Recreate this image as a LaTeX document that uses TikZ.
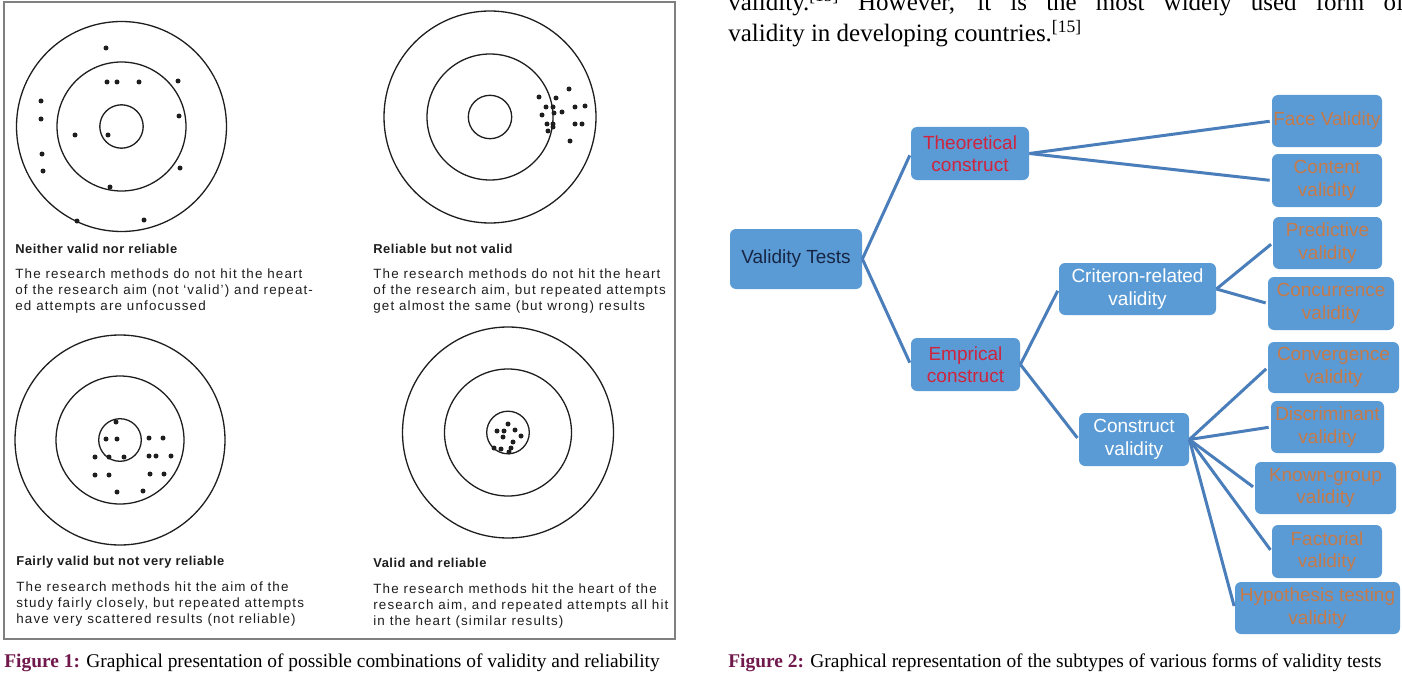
\documentclass[tikz,border=0pt]{standalone}
\usepackage{fontspec}
\setmainfont{Liberation Serif}
\setsansfont{Liberation Sans}
\newfontfamily\panelfont[LetterSpace=8.5]{Liberation Sans}
\newfontfamily\paneltitlefont[LetterSpace=4]{Liberation Sans}
\usetikzlibrary{positioning}
\definecolor{boxblue}{RGB}{91,155,213}
\definecolor{linkblue}{RGB}{74,126,187}
\definecolor{conred}{RGB}{206,36,62}
\definecolor{leaforange}{RGB}{196,122,74}
\definecolor{rootink}{RGB}{22,38,68}
\definecolor{figlabel}{RGB}{112,24,76}
\definecolor{inkgray}{RGB}{30,30,30}
\tikzset{every picture/.style={line width=0.75pt}}
\tikzset{
  target/.style={draw=inkgray, line width=1.3pt},
  hit/.style={fill=inkgray},
  boxbase/.style={rectangle, rounded corners=6pt, fill=boxblue, inner sep=0pt, align=center,
    font=\sffamily\fontsize{19}{22.5}\selectfont},
  rootbox/.style={boxbase, text=rootink},
  midbox/.style={boxbase, text=conred},
  subbox/.style={boxbase, text=white},
  leafbox/.style={boxbase, text=leaforange},
  link/.style={draw=linkblue, line width=3pt, shorten >=2pt},
  ptitle/.style={anchor=west, inner sep=0pt, text=inkgray,
    font=\paneltitlefont\bfseries\fontsize{12.9}{15}\selectfont},
  pbody/.style={anchor=north west, inner sep=0pt, align=left, text=inkgray,
    font=\panelfont\fontsize{13.4}{16}\selectfont},
  figcap/.style={anchor=west, inner sep=0pt, font=\fontsize{19.4}{23}\selectfont},
  prose/.style={anchor=base west, inner sep=0pt, font=\fontsize{25}{31}\selectfont}
}

\begin{document}
\begin{tikzpicture}[x=1pt, y=-1pt]
    \useasboundingbox (0,0) rectangle (1402,674);
    \clip (0,0) rectangle (1402,674);
    \fill[white] (0,0) rectangle (1402,674);

    % Figure 1: four targets
    \draw[gray, line width=1.5pt] (4,2) rectangle (675,639);

    \draw[target] (121.5,126.5) circle (105pt);
    \draw[target] (121.5,126.5) circle (64.5pt);
    \draw[target] (121.5,126.5) circle (21.7pt);
    \foreach \p in {(106,48),(107,82),(117,82),(139,82),(178,81),(41,101),(41,119),
        (179,116),(75,135),(108,135),(42,154),(43,171),(180,168),(110,187),(77,221),(144,220)}
        \fill[hit] \p circle (2.5pt);

    \draw[target] (490,117) circle (106pt);
    \draw[target] (490,117) circle (63pt);
    \draw[target] (490,117) circle (21.7pt);
    \foreach \p in {(569,89),(539,97),(556,98),(546,107),(553,107),(575,107),(585,106),
        (554,113),(562,112),(542,115),(547,124),(553,124),(553,127),(575,124),(582,124),
        (548,131),(570,141)}
        \fill[hit] \p circle (2.5pt);

    \draw[target] (120,440) circle (105pt);
    \draw[target] (120,440) circle (64pt);
    \draw[target] (120,440) circle (21.3pt);
    \foreach \p in {(116,422),(106,439),(117,439),(149,438),(163,438),(95,457),(109,457),
        (124,457),(149,456),(156,456),(171,456),(95,475),(109,475),(150,474),(164,474),
        (117,492),(143,491)}
        \fill[hit] \p circle (2.5pt);

    \draw[target] (508,432.5) circle (105.5pt);
    \draw[target] (508,432.5) circle (63.5pt);
    \draw[target] (508,432.5) circle (21.3pt);
    \foreach \p in {(508,424),(497,431),(504,431),(515,430),(521,436),(503,437),(513,442),
        (494,448),(501,449),(511,448),(509,452)}
        \fill[hit] \p circle (2.5pt);

    \node[ptitle] (tltitle) at (15,249) {Neither valid nor reliable};
    \node[pbody] (tlbody) at (15,268.5) {The research methods do not hit the heart\\
        of the research aim (not ‘valid’) and repeat-\\ed attempts are unfocussed};
    \node[ptitle] (trtitle) at (373,249) {Reliable but not valid};
    \node[pbody] (trbody) at (373,268.5) {The research methods do not hit the heart\\
        of the research aim, but repeated attempts\\get almost the same (but wrong) results};
    \node[ptitle] (bltitle) at (16,562) {Fairly valid but not very reliable};
    \node[pbody] (blbody) at (16,581.5) {The research methods hit the aim of the\\
        study fairly closely, but repeated attempts\\have very scattered results (not reliable)};
    \node[ptitle] (brtitle) at (373,563) {Valid and reliable};
    \node[pbody] (brbody) at (373,583) {The research methods hit the heart of the\\
        research aim, and repeated attempts all hit\\in the heart (similar results)};

    \node[figcap] (cap1) at (4,663) {\textbf{\color{figlabel}Figure 1:} Graphical presentation
        of possible combinations of validity and reliability};

    % running text above Figure 2
    \node[prose] (prose1) at (728,11) {\makebox[676pt][s]{validity.\textsuperscript{[15]} However,
        it is the most widely used form of}};
    \node[prose] (prose2) at (728,42) {validity in developing countries.\textsuperscript{[15]}};

    % Figure 2: tree of validity tests
    \node[rootbox, minimum width=132, minimum height=60] (vt) at (796,259) {Validity Tests};
    \node[midbox, minimum width=118, minimum height=53] (theo) at (970,153.5) {Theoretical\\construct};
    \node[midbox, minimum width=109, minimum height=53] (emp) at (965.5,364.5) {Emprical\\construct};
    \node[subbox, minimum width=157, minimum height=52] (crit) at (1137.5,289) {Criteron-related\\validity};
    \node[subbox, minimum width=110, minimum height=53] (cons) at (1134,439.5) {Construct\\validity};

    \node[leafbox, minimum width=110, minimum height=52] (face) at (1327,121) {Face Validity};
    \node[leafbox, minimum width=110, minimum height=53] (cont) at (1327,180.5) {Content\\validity};
    \node[leafbox, minimum width=109, minimum height=52] (pred) at (1327.5,243) {Predictive\\validity};
    \node[leafbox, minimum width=126, minimum height=53] (conc) at (1331,303.5) {Concurrence\\validity};
    \node[leafbox, minimum width=131, minimum height=51] (conv) at (1333.5,367.5) {Convergence\\validity};
    \node[leafbox, minimum width=113, minimum height=52] (disc) at (1327.5,427) {Discriminant\\validity};
    \node[leafbox, minimum width=141, minimum height=52] (known) at (1325.5,488) {Known-group\\validity};
    \node[leafbox, minimum width=110, minimum height=53] (fact) at (1327,551.5) {Factorial\\validity};
    \node[leafbox, minimum width=165, minimum height=52] (hyp) at (1317.5,608) {Hypothesis testing\\validity};

    \draw[link] (vt.east) -- (theo.west);
    \draw[link] (vt.east) -- (emp.west);
    \draw[link] (theo.east) -- (face.west);
    \draw[link] (theo.east) -- (cont.west);
    \draw[link] (emp.east) -- (crit.west);
    \draw[link] (emp.east) -- (cons.west);
    \draw[link] (crit.east) -- (pred.west);
    \draw[link] (crit.east) -- (conc.west);
    \foreach \leaf in {conv,disc,known,fact,hyp}
        \draw[link] (cons.east) -- (\leaf.west);

    \node[figcap] (cap2) at (728,663) {\textbf{\color{figlabel}Figure 2:} Graphical representation
        of the subtypes of various forms of validity tests};
\end{tikzpicture}
\end{document}
